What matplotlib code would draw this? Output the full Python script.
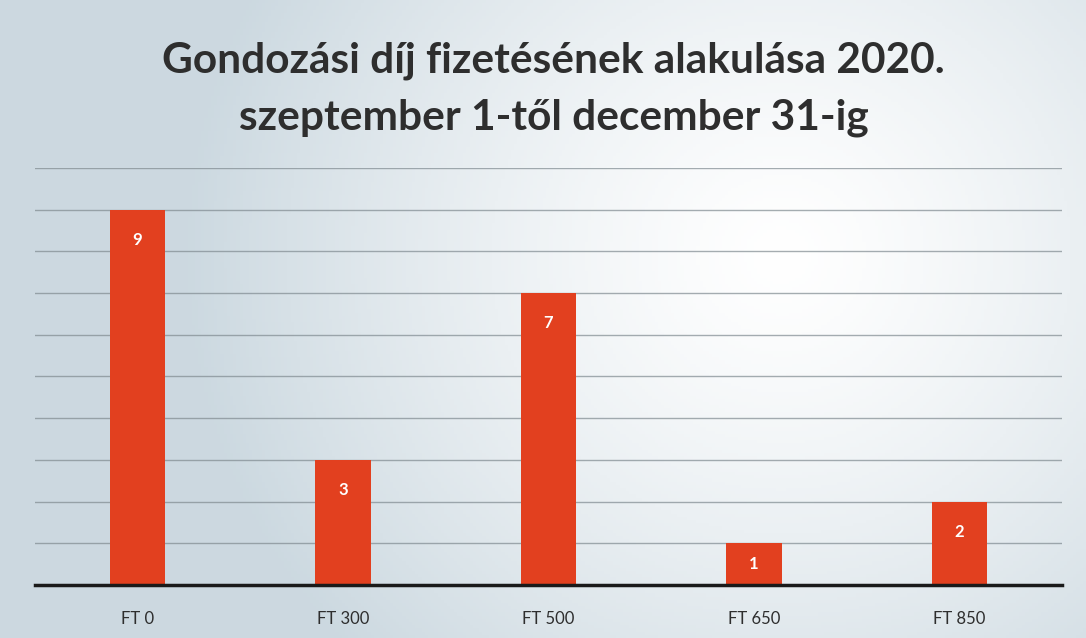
import numpy as np
import matplotlib.pyplot as plt

# --- data ---
categories = ['FT 0', 'FT 300', 'FT 500', 'FT 650', 'FT 850']
counts = [9, 3, 7, 1, 2]
title_lines = ['Gondozási díj fizetésének alakulása 2020.',
               'szeptember 1-től december 31-ig']

BAR_COLOR = '#e2401f'
TEXT_COLOR = '#2e2e2e'

plt.rcParams['font.family'] = ['Lato', 'DejaVu Sans']

fig = plt.figure(figsize=(10.86, 6.38), dpi=100)

# background: light blue-grey edges, white glow right of centre
bg = fig.add_axes([0, 0, 1, 1])
yy, xx = np.mgrid[0:1:200j, 0:1:340j]
dist = np.sqrt(((xx - 0.72) / 0.55) ** 2 + ((yy - 0.4) / 0.9) ** 2)
t = np.clip(dist, 0, 1) ** 1.3
edge = np.array([0.80, 0.85, 0.88])
white = np.array([1.0, 1.0, 1.0])
img = white[None, None, :] * (1 - t[..., None]) + edge[None, None, :] * t[..., None]
bg.imshow(img, aspect='auto', extent=[0, 1, 0, 1], origin='upper')
bg.axis('off')

ax = fig.add_axes([0.032, 0.083, 0.946, 0.654])
ax.set_facecolor('none')
x = np.arange(len(categories))
bars = ax.bar(x, counts, width=0.27, color=BAR_COLOR, zorder=3)

# value labels just inside the top of each bar
for xi, v in zip(x, counts):
    off = min(0.72, v * 0.5)
    ax.text(xi, v - off, str(v), ha='center', va='center', color='white',
            fontsize=12, fontweight='bold', zorder=4)

ax.set_xlim(-0.5, len(categories) - 0.5)
ax.set_ylim(0, 10)
ax.set_yticks(np.arange(1, 11))
ax.yaxis.grid(True, color='#7f8a90', linewidth=1.0, alpha=0.7, zorder=1)
ax.tick_params(axis='y', left=False, labelleft=False)
ax.tick_params(axis='x', length=0, pad=19, labelsize=12, labelcolor=TEXT_COLOR)
ax.set_xticks(x)
ax.set_xticklabels(categories)
for side in ['top', 'right', 'left']:
    ax.spines[side].set_visible(False)
ax.spines['bottom'].set_color('#1a1a1a')
ax.spines['bottom'].set_linewidth(2.5)
ax.spines['bottom'].set_zorder(5)

fig.text(0.51, 0.905, title_lines[0], ha='center', va='center',
         fontsize=30.5, fontweight='bold', color=TEXT_COLOR)
fig.text(0.51, 0.815, title_lines[1], ha='center', va='center',
         fontsize=30.5, fontweight='bold', color=TEXT_COLOR)

fig.savefig('out.png', dpi=100)
